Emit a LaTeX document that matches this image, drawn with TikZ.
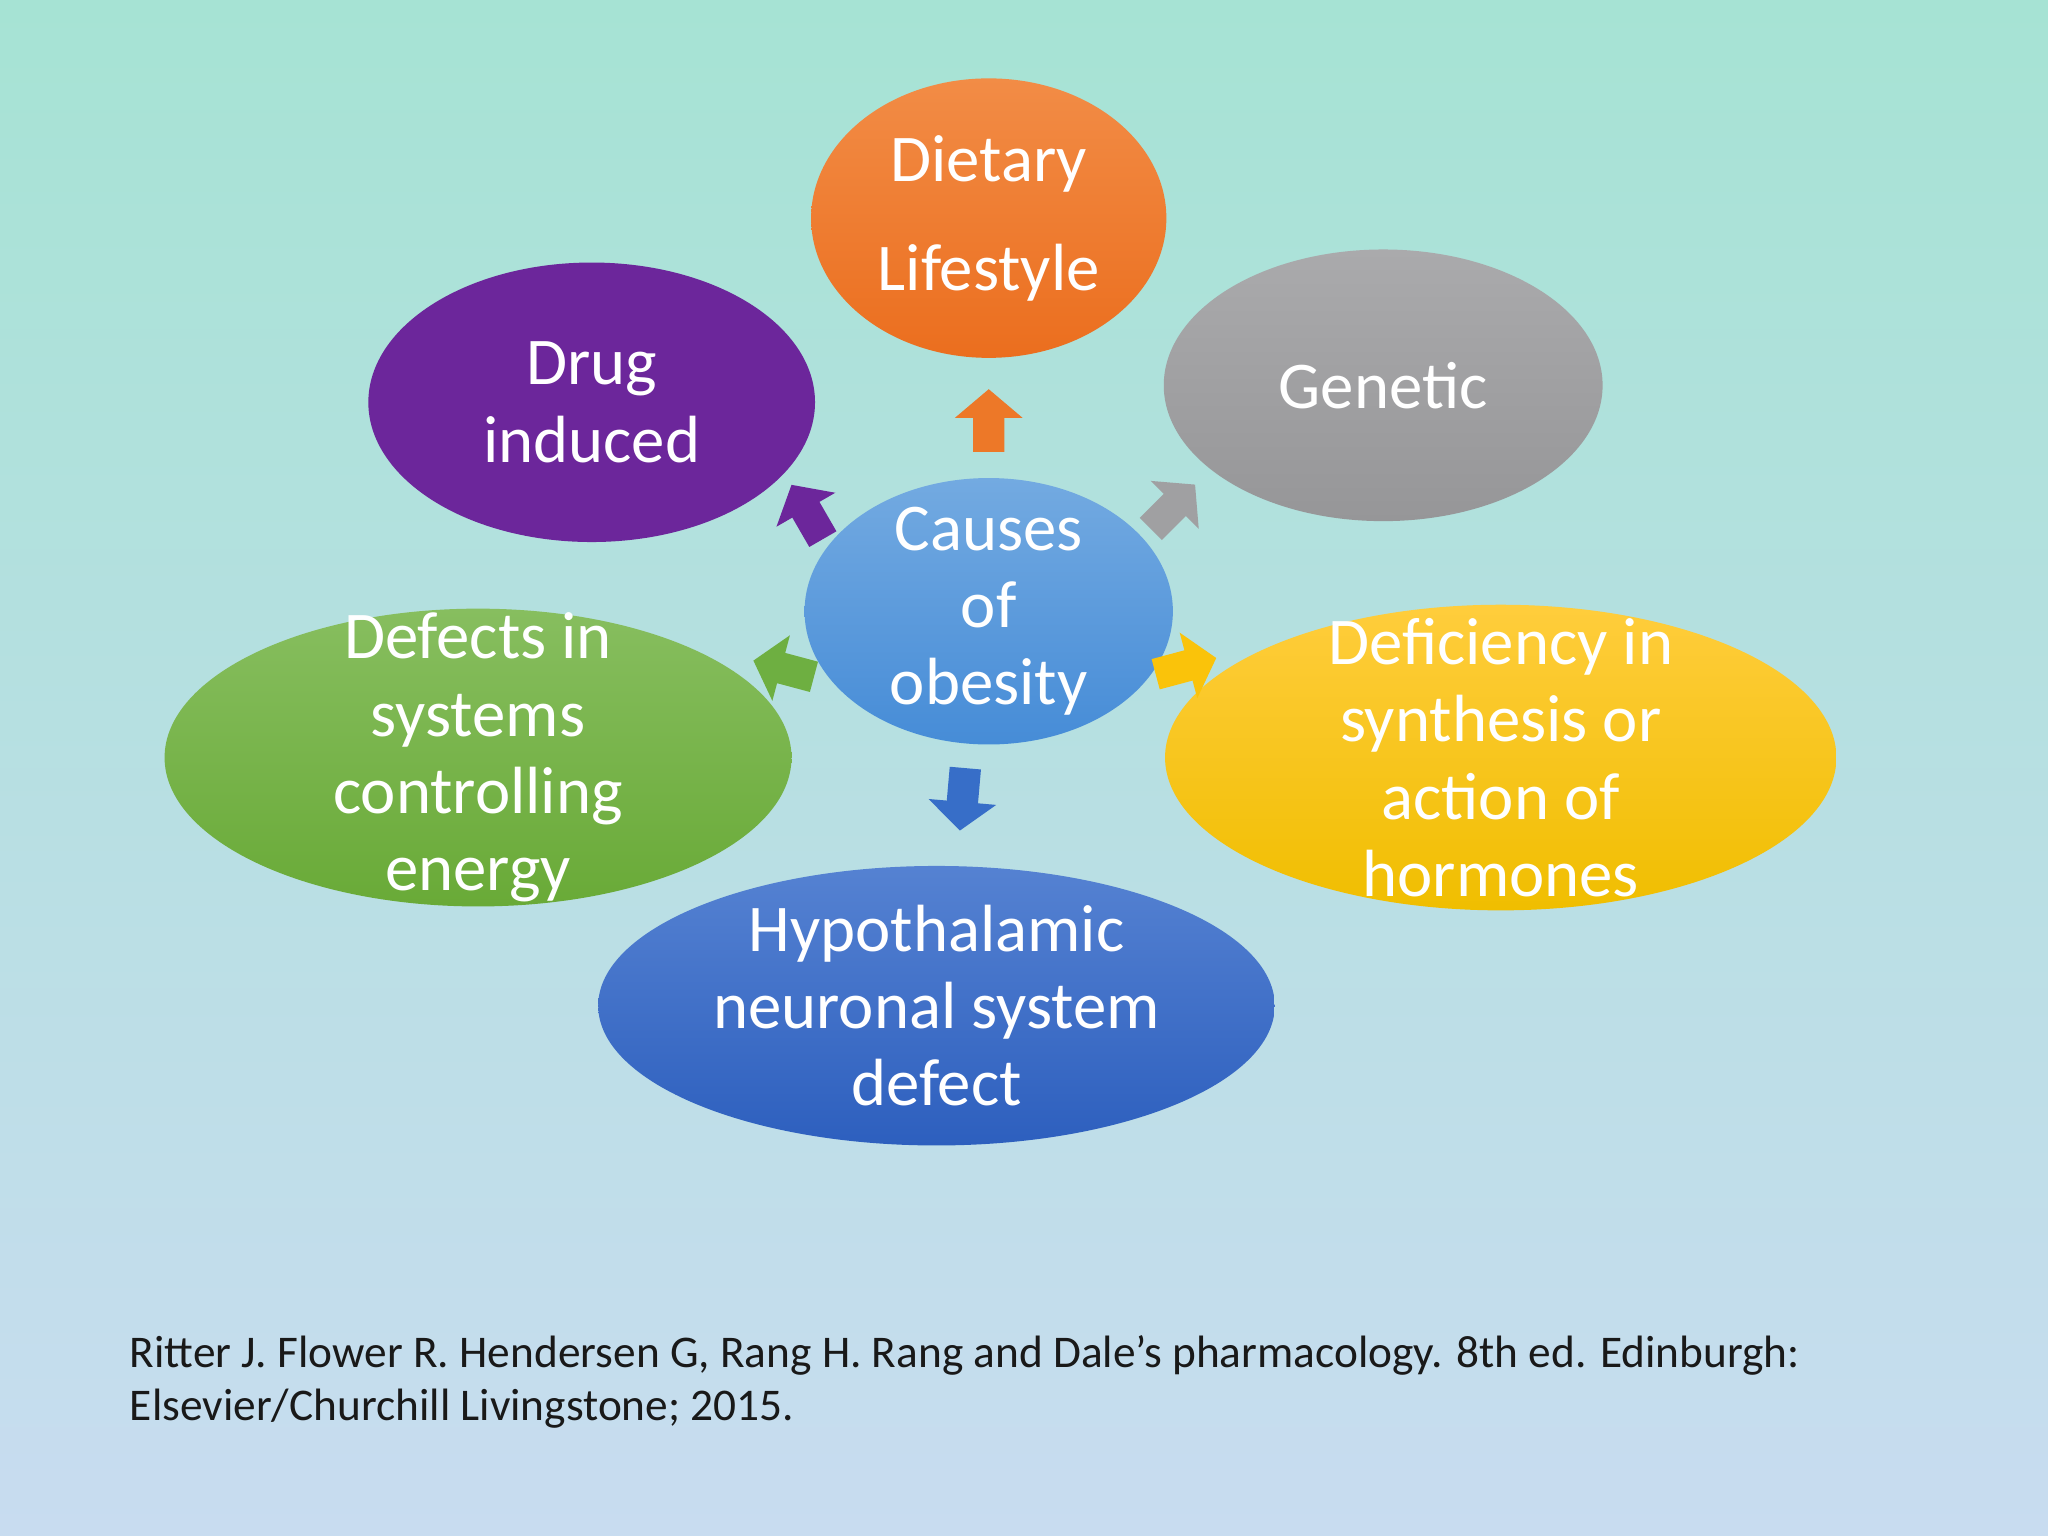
\documentclass[tikz,border=0pt]{standalone}
\usepackage{fontspec}
\setmainfont{Carlito}
\usetikzlibrary{shapes.geometric}
\newlength{\uu}\setlength{\uu}{0.013061cm}
\begin{document}
\begin{tikzpicture}[x=0.013061cm,y=-0.013061cm,
  el/.style={ellipse,inner sep=0pt},
  tx/.style={align=center,text=white,inner sep=0pt,font=\fontsize{19pt}{22pt}\selectfont},
  blk/.pic={\fill (-24,-12) -- (2,-12) -- (2,-26) -- (24,0) -- (2,26) -- (2,12) -- (-24,12) -- cycle;},
]
\shade[top color={rgb,255:red,166;green,227;blue,212},bottom color={rgb,255:red,200;green,220;blue,240}] (0,0) rectangle (1568,1176);
\useasboundingbox (0,0) rectangle (1568,1176);
\node[el,minimum width=272\uu,minimum height=214\uu,top color={rgb,255:red,242;green,140;blue,70},bottom color={rgb,255:red,235;green,110;blue,30}] (diet) at (757,167) {};
\node[tx] (dietT) at (diet) {Dietary\\[9pt]Lifestyle};
\node[el,minimum width=336\uu,minimum height=208\uu,top color={rgb,255:red,170;green,170;blue,172},bottom color={rgb,255:red,150;green,150;blue,152}] (gen) at (1059,295) {};
\node[tx] (genT) at (gen) {Genetic};
\node[el,minimum width=342\uu,minimum height=214\uu,fill={rgb,255:red,108;green,38;blue,155}] (drug) at (453,308) {};
\node[tx] (drugT) at (drug) {Drug\\induced};
\node[el,minimum width=480\uu,minimum height=228\uu,top color={rgb,255:red,135;green,190;blue,95},bottom color={rgb,255:red,105;green,170;blue,55}] (def) at (366,580) {};
\node[el,minimum width=514\uu,minimum height=234\uu,top color={rgb,255:red,255;green,205;blue,60},bottom color={rgb,255:red,240;green,190;blue,0}] (hor) at (1149,580) {};
\node[tx] (horT) at (hor) {Deficiency in\\synthesis or\\action of\\hormones};
\node[el,minimum width=518\uu,minimum height=214\uu,top color={rgb,255:red,85;green,130;blue,210},bottom color={rgb,255:red,45;green,95;blue,190}] (hyp) at (717,770) {};
\node[tx] (hypT) at (hyp) {Hypothalamic\\neuronal system\\defect};
\node[tx] (defT) at (def) {Defects in\\systems\\controlling\\energy};
\node[el,minimum width=282\uu,minimum height=204\uu,top color={rgb,255:red,115;green,170;blue,225},bottom color={rgb,255:red,70;green,140;blue,215}] (cause) at (757,468) {};
\node[tx] (causeT) at (cause) {Causes\\of\\obesity};
\pic[fill={rgb,255:red,237;green,120;blue,40},rotate=90] at (757,322) {blk};
\pic[fill={rgb,255:red,160;green,160;blue,162},rotate=45] at (898,388) {blk};
\pic[fill={rgb,255:red,108;green,38;blue,155},rotate=120] at (618,392) {blk};
\pic[fill={rgb,255:red,110;green,175;blue,65},rotate=165] at (600,512) {blk};
\pic[fill={rgb,255:red,250;green,195;blue,10},rotate=15] at (908,510) {blk};
\pic[fill={rgb,255:red,55;green,110;blue,200},rotate=-95] at (737,612) {blk};
\node[anchor=west,align=left,font=\fontsize{12.9pt}{15pt}\selectfont,text={rgb,255:red,25;green,25;blue,25}] (cit) at (90,1058) {Ritter J. Flower R. Hendersen G, Rang H. Rang and Dale's pharmacology. 8th ed. Edinburgh:\\Elsevier/Churchill Livingstone; 2015.};
\end{tikzpicture}
\end{document}
